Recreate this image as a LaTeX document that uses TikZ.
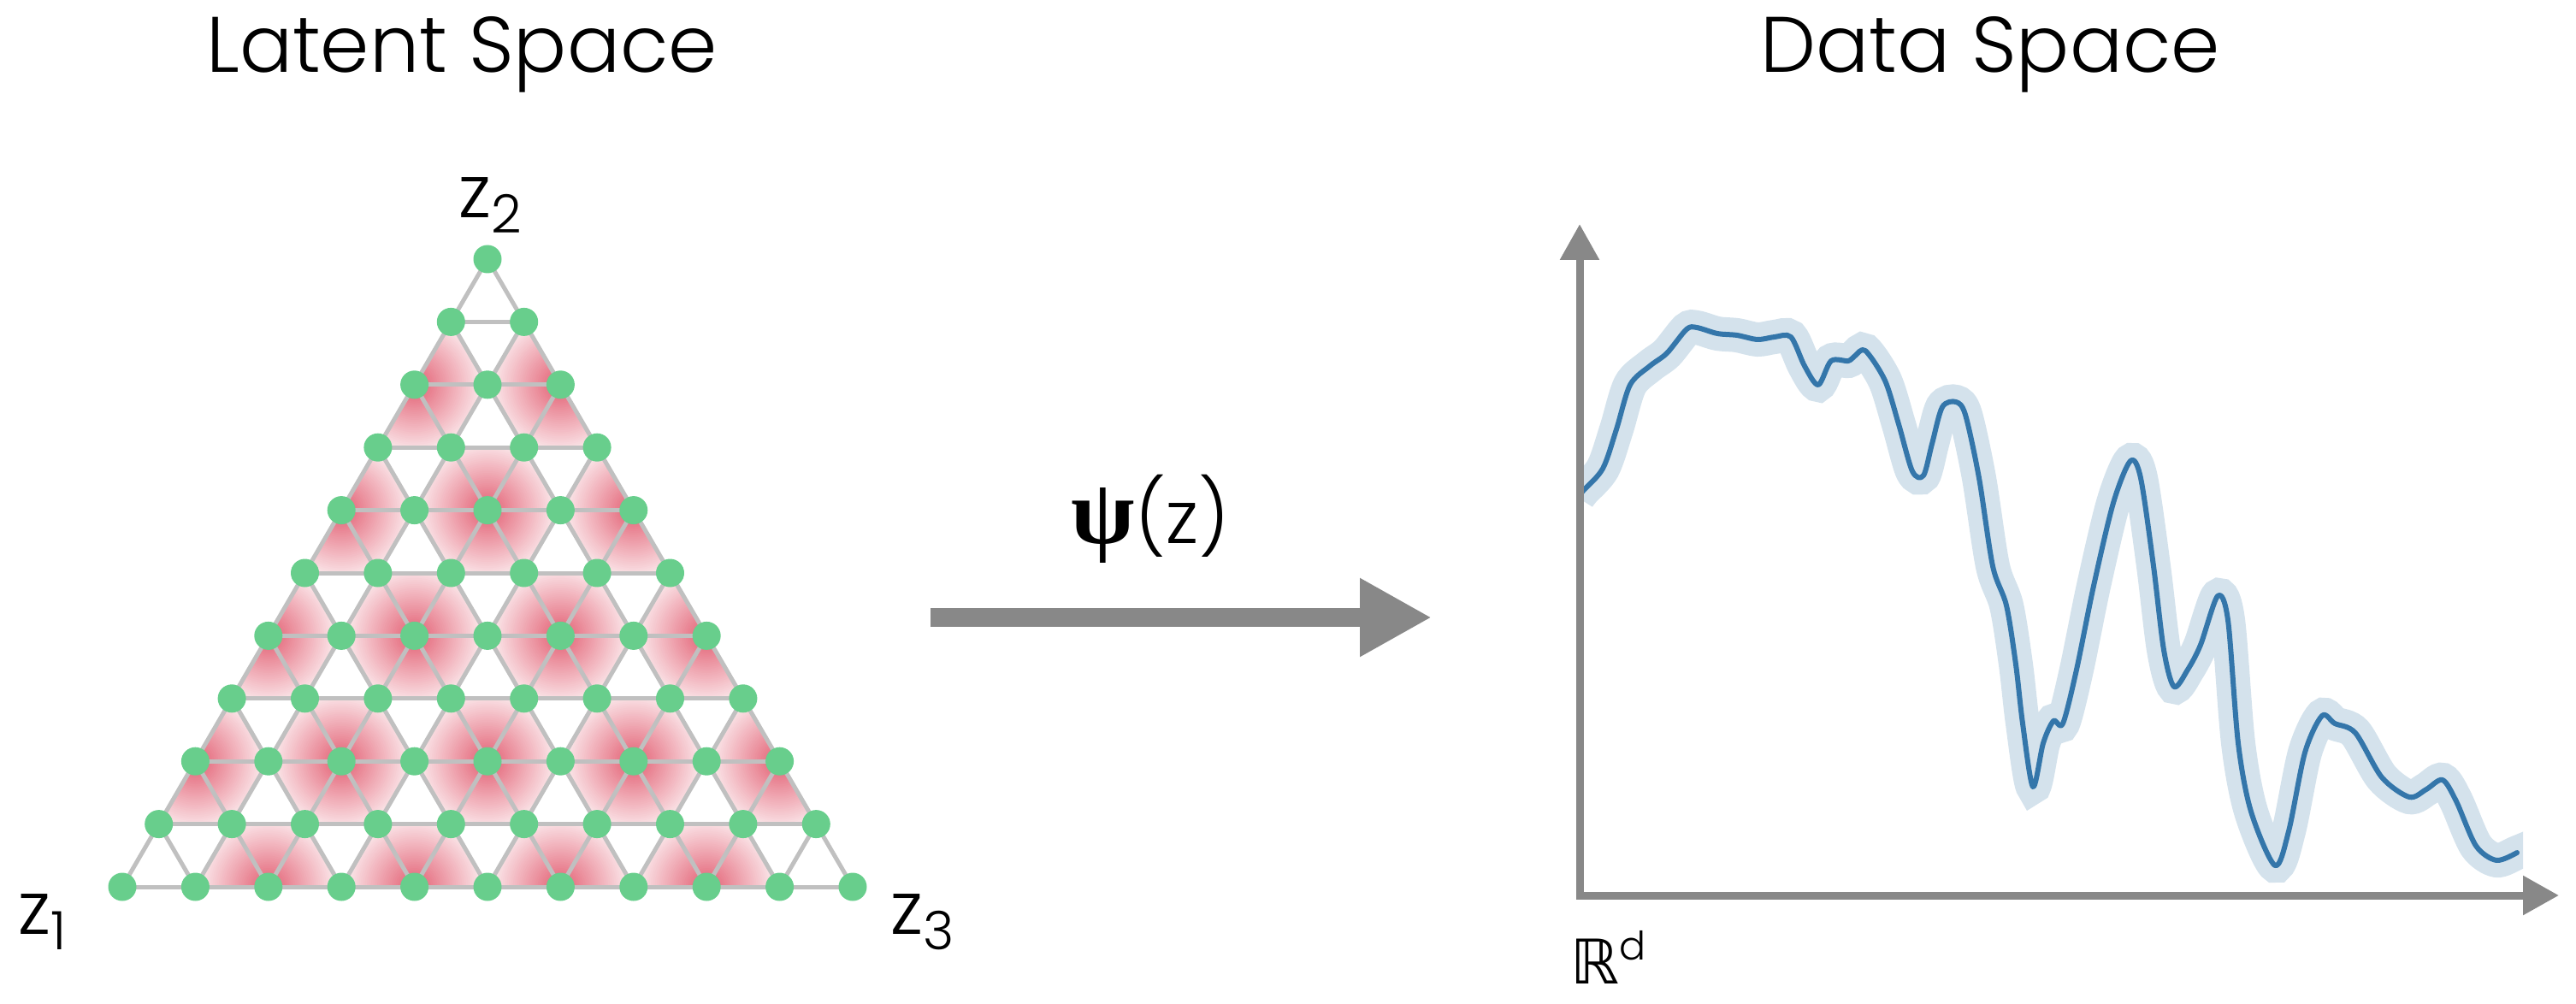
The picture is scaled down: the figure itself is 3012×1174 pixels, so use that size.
\documentclass[tikz,border=0pt]{standalone}
\usepackage{fontspec}
\IfFontExistsTF{Poppins Light}{\setmainfont{Poppins Light}}{\setmainfont{Poppins}}
\newfontfamily\psifont{Liberation Serif}
\newfontfamily\dejavu{DejaVu Sans}
\usetikzlibrary{arrows.meta}
\definecolor{nodegreen}{RGB}{104,206,140}
\definecolor{latticegray}{RGB}{192,192,192}
\definecolor{pinkc}{RGB}{226,92,112}
\definecolor{axisgray}{RGB}{136,136,136}
\definecolor{curveblue}{RGB}{52,118,170}
\definecolor{halocol}{RGB}{212,226,236}
\tikzset{
  dot/.style={circle, fill=nodegreen, inner sep=0pt, minimum size=33pt},
  gridline/.style={latticegray, line width=5pt},
  axisline/.style={axisgray, line width=9pt, line join=miter,
    {Triangle[length=42pt,width=44pt]}-{Triangle[length=42pt,width=44pt]}},
  maparrow/.style={axisgray, line width=22pt, -{Triangle[length=84pt,width=86pt]}},
  title/.style={font=\fontsize{92}{110}\selectfont, inner sep=0pt, anchor=base},
  zlbl/.style={font=\fontsize{86}{100}\selectfont, inner sep=0pt, anchor=base west},
  halo/.style={halocol, line width=40pt},
  curve/.style={curveblue, line width=6pt, line cap=round, line join=round}
}
\newcommand{\subdig}[1]{\raisebox{-18pt}{\fontsize{62}{62}\selectfont #1}}
\begin{document}
\begin{tikzpicture}[x=1pt,y=-1pt]
\useasboundingbox (0,0) rectangle (3012,1174);
% titles
\node[title] (tl) at (540,85) {Latent Space};
\node[title] (tr) at (2327,85) {Data Space};
% lattice coordinates
\foreach \r in {0,...,10}{
  \foreach \i in {0,...,\r}{
    \coordinate (p-\r-\i) at ({570+(\i-\r/2)*85.4},{303+\r*73.4});
  }
}
% pink shading (stepped radial fade)
\begin{scope}
  \clip (p-0-0) -- (p-10-0) -- (p-10-10) -- cycle;
  \foreach \r in {2,4,6,8,10}{
    \foreach \i in {0,2,...,\r}{
      \pgfmathtruncatemacro\myskip{(\r==10)&&((\i==0)||(\i==10))}
      \ifnum\myskip=0
        \pgfmathsetmacro\cx{570+(\i-\r/2)*85.4}
        \pgfmathsetmacro\cy{303+\r*73.4}
        \begin{scope}
          \clip (\cx-85.4,\cy) -- (\cx-42.7,\cy-73.4) -- (\cx+42.7,\cy-73.4)
             -- (\cx+85.4,\cy) -- (\cx+42.7,\cy+73.4) -- (\cx-42.7,\cy+73.4) -- cycle;
          \foreach \k in {0,...,32}{
            \pgfmathsetmacro\rad{94-\k*2.4}
            \pgfmathsetmacro\pc{100*(1-\rad/94)}
            \fill[pinkc!\pc!white] (p-\r-\i) circle (\rad pt);
          }
        \end{scope}
      \fi
    }
  }
\end{scope}
% grid lines
\foreach \r in {1,...,10}{
  \draw[gridline] (p-\r-0) -- (p-\r-\r);
}
\foreach \i in {0,...,9}{
  \draw[gridline] (p-\i-\i) -- (p-10-\i);
}
\foreach \j in {0,...,9}{
  \pgfmathtruncatemacro\k{10-\j}
  \draw[gridline] (p-\j-0) -- (p-10-\k);
}
% nodes
\foreach \r in {0,...,10}{
  \foreach \i in {0,...,\r}{
    \node[dot] (n-\r-\i) at (p-\r-\i) {};
  }
}
% corner labels
\node[zlbl] (z1) at (21,1092) {z\subdig{1}};
\node[zlbl] (z2) at (536,255) {z\subdig{2}};
\node[zlbl] (z3) at (1041,1092) {z\subdig{3}};
% mapping arrow
\coordinate (a1) at (1088,722);
\coordinate (a2) at (1674,722);
\draw[maparrow] (a1) -- (a2);
\node[inner sep=0pt, anchor=base, font=\fontsize{86}{100}\selectfont] (psi) at (1345,635)
  {{\psifont\bfseries\fontsize{108}{110}\selectfont ψ}(z)};
% data curve
\begin{scope}
  \clip (1847,0) rectangle (2950,1174);
  \draw[halo] plot[smooth, tension=0.5] coordinates {
  (1845,582) (1851,574) (1874,548) (1890,502) (1906,450) (1929,428) (1949,413) (1972,385) (1984,383) (2008,390) (2031,392) (2055,397) (2075,394) (2094,394) (2110,428) (2126,450) (2141,422) (2161,422) (2169,416) (2181,410) (2204,445) (2220,496) (2236,551) (2249,556) (2259,519) (2271,476) (2287,470) (2298,485) (2314,559) (2330,662) (2346,708) (2357,777) (2365,846) (2377,920) (2389,869) (2401,843) (2412,846) (2428,783) (2448,685) (2471,588) (2491,539) (2503,559) (2518,662) (2530,760) (2542,803) (2558,783) (2573,754) (2593,697) (2605,725) (2617,869) (2632,949) (2660,1012) (2676,972) (2695,880) (2715,837) (2730,846) (2754,857) (2785,909) (2817,932) (2837,923) (2856,912) (2872,937) (2895,989) (2919,1006) (2943,997) (2960,990)};
\end{scope}
\begin{scope}
  \clip (1847,0) rectangle (3012,1174);
  \draw[curve] plot[smooth, tension=0.5] coordinates {
  (1845,582) (1851,574) (1874,548) (1890,502) (1906,450) (1929,428) (1949,413) (1972,385) (1984,383) (2008,390) (2031,392) (2055,397) (2075,394) (2094,394) (2110,428) (2126,450) (2141,422) (2161,422) (2169,416) (2181,410) (2204,445) (2220,496) (2236,551) (2249,556) (2259,519) (2271,476) (2287,470) (2298,485) (2314,559) (2330,662) (2346,708) (2357,777) (2365,846) (2377,920) (2389,869) (2401,843) (2412,846) (2428,783) (2448,685) (2471,588) (2491,539) (2503,559) (2518,662) (2530,760) (2542,803) (2558,783) (2573,754) (2593,697) (2605,725) (2617,869) (2632,949) (2660,1012) (2676,972) (2695,880) (2715,837) (2730,846) (2754,857) (2785,909) (2817,932) (2837,923) (2856,912) (2872,937) (2895,989) (2919,1006) (2943,997)};
\end{scope}
% axes
\coordinate (ytop) at (1847,262);
\coordinate (orig) at (1847,1047);
\coordinate (xend) at (2992,1047);
\draw[axisline] (ytop) -- (orig) -- (xend);
\node[inner sep=0pt, anchor=base west] (rd) at (1836,1150)
  {{\dejavu\fontsize{72}{80}\selectfont ℝ}\raisebox{28pt}{\fontsize{46}{50}\selectfont d}};
\end{tikzpicture}
\end{document}
